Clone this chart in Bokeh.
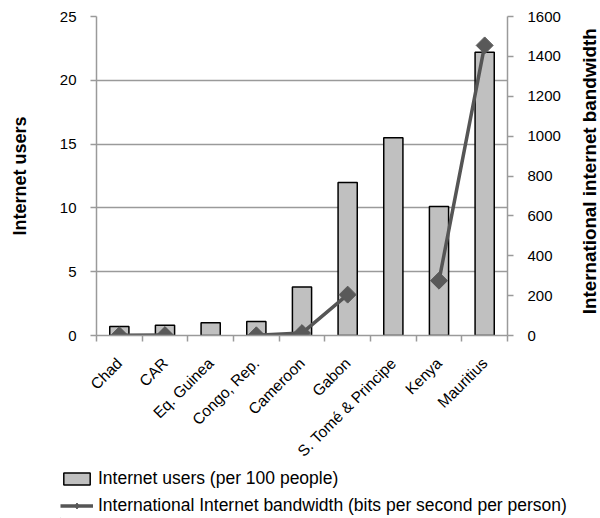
import math
from bokeh.plotting import figure
from bokeh.layouts import column, row
from bokeh.core.properties import value
from bokeh.models import (Range1d, LinearAxis, FixedTicker, Legend, LegendItem,
                          ColumnDataSource)
from bokeh.embed import file_html
from bokeh.resources import INLINE

# Country data
countries = ["Chad", "CAR", "Eq. Guinea", "Congo, Rep.", "Cameroon", "Gabon",
             "S. Tomé & Principe", "Kenya", "Mauritius"]
users_per_100 = [0.7, 0.8, 1.0, 1.1, 3.8, 12.0, 15.5, 10.1, 22.2]
bandwidth_bps = [1, 2, float("nan"), 1, 12, 205, float("nan"), 275, 1455]

left_ticks = [0, 5, 10, 15, 20, 25]
right_ticks = [0, 200, 400, 600, 800, 1000, 1200, 1400, 1600]

FONT = "'Liberation Sans', Arial, sans-serif"
GRID = "#9a9a9a"
BAR_STYLE = dict(fill_color="#c0c0c0", line_color="black", line_width=1.5)
LINE_STYLE = dict(line_color="#555555", line_width=3.5)
PT_FILL = dict(fill_color="#595959", line_color="#595959")

MAIN_H = 468
TOP, BOTTOM = 16, 133
xpos = [i + 0.5 for i in range(len(countries))]
src = ColumnDataSource(dict(x=xpos, users=users_per_100, bw=bandwidth_bps))

# ---- main chart -------------------------------------------------------
p = figure(width=575, height=MAIN_H, output_backend="svg", toolbar_location=None,
           x_range=Range1d(0, len(countries)), y_range=Range1d(0, 25),
           min_border_left=96, min_border_right=68, min_border_top=TOP,
           min_border_bottom=BOTTOM)
p.extra_y_ranges = {"bw": Range1d(0, 1600)}
p.outline_line_color = None

p.xgrid.grid_line_color = None
p.ygrid.grid_line_color = GRID
p.ygrid.grid_line_width = 1.5
p.ygrid.ticker = FixedTicker(ticks=left_ticks)

p.vbar(x="x", top="users", width=0.42, source=src, **BAR_STYLE)
p.line(x="x", y="bw", source=src, y_range_name="bw", **LINE_STYLE)
p.scatter(x="x", y="bw", source=src, y_range_name="bw", marker="square",
          angle=math.pi / 4, size=12, **PT_FILL)

ya = p.yaxis[0]
ya.ticker = FixedTicker(ticks=left_ticks)
ya.axis_label = "Internet users"
ya.axis_label_text_font = FONT
ya.axis_label_text_font_style = "bold"
ya.axis_label_text_font_size = "18px"
ya.axis_label_text_color = "black"
ya.axis_label_standoff = 27

ra = LinearAxis(y_range_name="bw", ticker=FixedTicker(ticks=right_ticks))
p.add_layout(ra, "right")

for ax in (ya, ra):
    ax.axis_line_color = GRID
    ax.axis_line_width = 1.5
    ax.major_tick_line_color = GRID
    ax.major_tick_line_width = 1.5
    ax.major_tick_in = 0
    ax.major_tick_out = 6
    ax.minor_tick_line_color = None
    ax.major_label_text_font = FONT
    ax.major_label_text_font_size = "15px"
    ax.major_label_text_color = "black"
    ax.major_label_standoff = 14

# category axis: names at bar centres, tick marks between categories
xa = p.xaxis[0]
xa.ticker = FixedTicker(ticks=xpos, minor_ticks=list(range(len(countries) + 1)))
xa.major_label_overrides = {x: c for x, c in zip(xpos, countries)}
xa.major_label_orientation = math.pi / 4
xa.major_tick_line_color = None
xa.major_tick_out = 0
xa.minor_tick_line_color = GRID
xa.minor_tick_line_width = 1.5
xa.minor_tick_in = 0
xa.minor_tick_out = 6
xa.axis_line_color = GRID
xa.axis_line_width = 1.5
xa.major_label_text_font = FONT
xa.major_label_text_font_size = "15.5px"
xa.major_label_text_color = "black"
xa.major_label_standoff = 19

# ---- right-hand axis title, reading upwards ---------------------------
rt = figure(width=25, height=MAIN_H, output_backend="svg", toolbar_location=None,
            x_range=Range1d(0, 1), y_range=Range1d(0, 1),
            min_border=0, min_border_top=TOP, min_border_bottom=BOTTOM)
rt.axis.visible = False
rt.grid.visible = False
rt.outline_line_color = None
rt.text(x=[0.56], y=[0.515], text=["International internet bandwidth"],
        angle=math.pi / 2, text_align="center", text_baseline="middle",
        text_font=value(FONT), text_font_style="bold", text_font_size="18.8px",
        text_color="black")

# ---- legend strip -----------------------------------------------------
lg = figure(width=600, height=518 - MAIN_H, output_backend="svg",
            toolbar_location=None, x_range=Range1d(0, 1), y_range=Range1d(0, 1),
            min_border=0, min_border_left=60)
lg.axis.visible = False
lg.grid.visible = False
lg.outline_line_color = None
# swatch renderers sit outside the visible range; only the legend shows them
swatch = ColumnDataSource(dict(x=[-5], y=[-5]))
r_bar = lg.vbar(x="x", top="y", width=0.1, source=swatch, **BAR_STYLE)
r_line = lg.line(x="x", y="y", source=swatch, **LINE_STYLE)
r_pt = lg.scatter(x="x", y="y", source=swatch, marker="diamond", size=14,
                  **PT_FILL)

legend = Legend(items=[
    LegendItem(label="Internet users (per 100 people)", renderers=[r_bar]),
    LegendItem(label="International Internet bandwidth (bits per second per person)",
               renderers=[r_line, r_pt]),
], location="top_left")
legend.border_line_color = None
legend.background_fill_alpha = 0
legend.padding = 0
legend.margin = 0
legend.spacing = 6
legend.glyph_width = 33
legend.glyph_height = 15
legend.label_standoff = 5
legend.label_text_font = FONT
legend.label_text_font_size = "17.5px"
legend.label_text_color = "black"
lg.add_layout(legend, "center")

layout = column(row(p, rt, spacing=0), lg, spacing=0)

open("out.html", "w").write(file_html(layout, INLINE))
